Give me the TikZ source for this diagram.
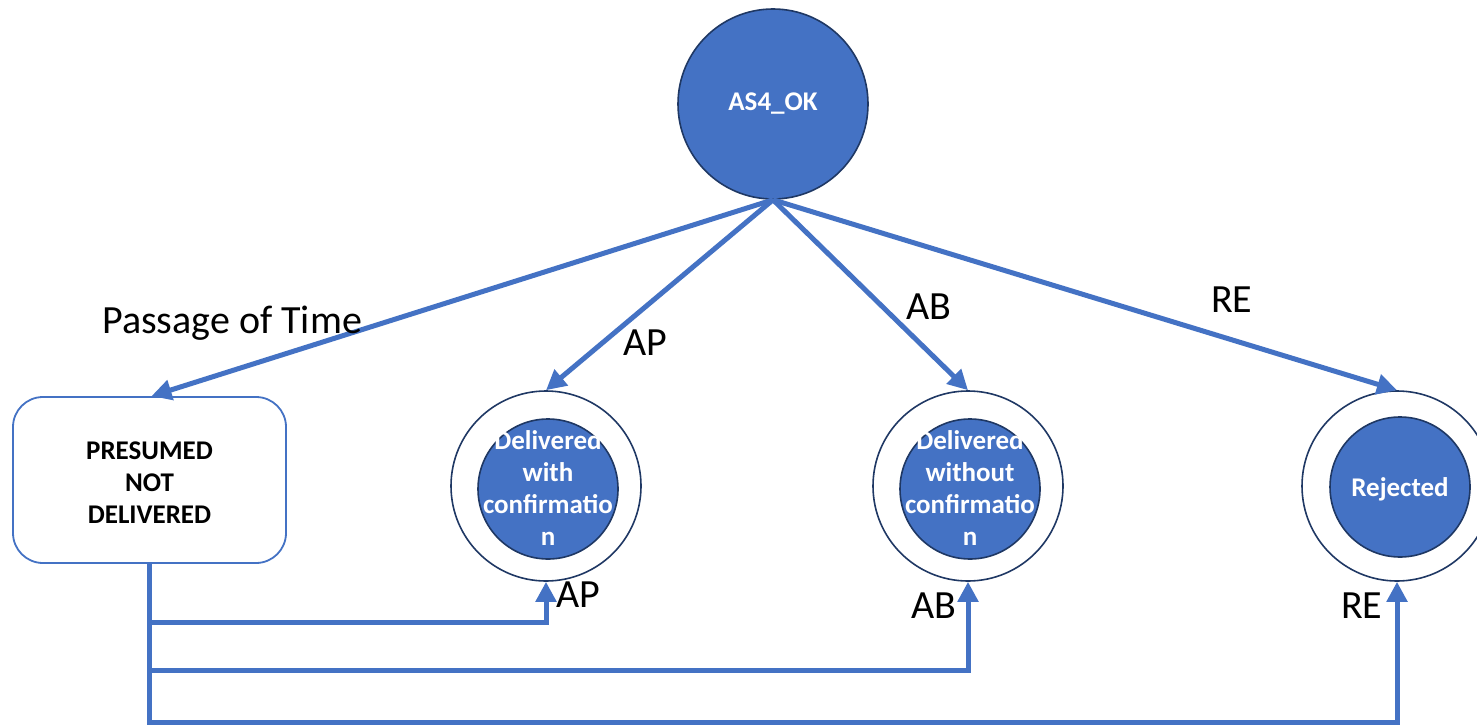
\documentclass[tikz,border=0pt]{standalone}
\usepackage{fontspec}
\setmainfont{Carlito}
\usetikzlibrary{arrows.meta,calc}
\definecolor{ofblue}{HTML}{4472C4}
\definecolor{ofnavy}{HTML}{1F3864}
\tikzset{
  state/.style={circle, draw=ofnavy, line width=1.6pt, fill=ofblue, inner sep=0pt},
  ring/.style={circle, draw=ofnavy, line width=1.6pt, fill=white, inner sep=0pt, minimum size=190pt},
  core/.style={circle, draw=ofnavy, line width=1.6pt, fill=ofblue, inner sep=0pt, minimum size=140pt},
  intext/.style={text=white, font=\bfseries\fontsize{27}{32}\selectfont, align=center, inner sep=0pt},
  boxtext/.style={text=black, font=\bfseries\fontsize{27}{32}\selectfont, align=center, inner sep=0pt},
  lbl/.style={text=black, font=\fontsize{40}{48}\selectfont, inner sep=0pt, anchor=base west},
  conn/.style={draw=ofblue, line width=5pt},
  arr/.style={conn, -{Triangle[length=20pt,width=20pt]}},
  pbox/.style={draw=ofblue, line width=1.8pt, rounded corners=30pt, fill=white, minimum width=273pt, minimum height=166pt, inner sep=0pt}
}
\begin{document}
\begin{tikzpicture}[x=1pt,y=-1pt]
\useasboundingbox (0,0) rectangle (1477,725);
\clip (0,0) rectangle (1477,725);
\fill[white] (0,0) rectangle (1477,725);

% nodes
\node[state, minimum size=190pt] (as4) at (773,104) {};
\node[intext] (as4t) at (as4) {AS4\_OK};

\node[pbox] (pres) at (149.5,480) {};
\node[boxtext] (prest) at (149.5,483) {PRESUMED\\NOT\\DELIVERED};

\node[ring] (dwc) at (546,486) {};
\node[core] (dwci) at (548,489) {};
\node[intext] (dwct) at (548,488) {Delivered\\with\\confirmatio\\n};

\node[ring] (dwo) at (968,486) {};
\node[core] (dwoi) at (970,489) {};
\node[intext] (dwot) at (970,488) {Delivered\\without\\confirmatio\\n};

\node[ring] (rej) at (1397,486) {};
\node[core] (reji) at (1400,487) {};
\node[intext] (rejt) at (1400,489) {Rejected};

% top arrows
\draw[arr] (as4.south) -- ($(pres.north)+(2,0)$);
\draw[arr] (as4.south) -- (dwc.north);
\draw[arr] (as4.south) -- (dwo.north);
\draw[arr] (as4.south) -- (rej.north);

% bottom connectors
\draw[arr] (pres.south) -- ++(0,59) -| (dwc.south);
\draw[arr] (pres.south) -- ++(0,107) -| (dwo.south);
\draw[arr] (pres.south) -- ++(0,159) -| (rej.south);

% labels
\node[lbl] (lpt) at (102,333) {Passage of Time};
\node[lbl] (lap1) at (623,355) {AP};
\node[lbl] (lab1) at (906,319) {AB};
\node[lbl] (lre1) at (1211,312) {RE};
\node[lbl] (lap2) at (556,607) {AP};
\node[lbl] (lab2) at (911,618) {AB};
\node[lbl] (lre2) at (1341,618) {RE};
\end{tikzpicture}
\end{document}
